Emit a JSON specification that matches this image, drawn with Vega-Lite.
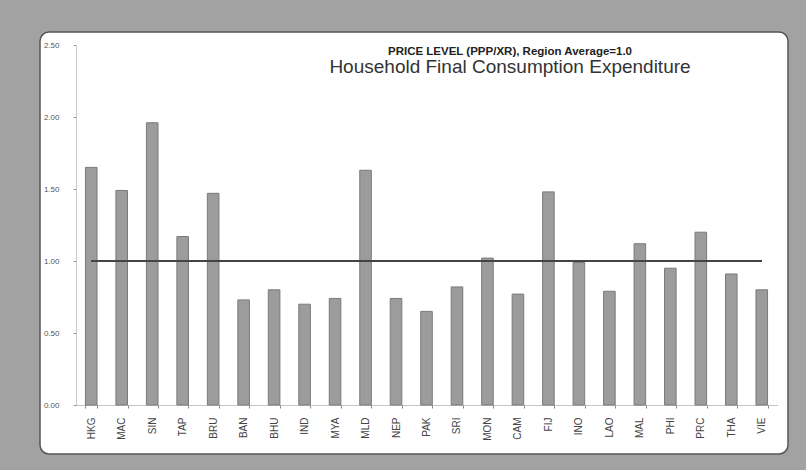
{
  "$schema": "https://vega.github.io/schema/vega-lite/v6.json",
  "width": 748,
  "height": 422,
  "autosize": {"type": "none"},
  "padding": {"left": 40, "top": 32, "right": 18, "bottom": 16},
  "background": "#a2a2a2",
  "config": {
    "font": "Liberation Sans",
    "view": {"fill": "white", "stroke": "#555", "strokeWidth": 1.5, "cornerRadius": 9}
  },
  "title": {
    "text": "PRICE LEVEL (PPP/XR), Region Average=1.0",
    "subtitle": "Household Final Consumption Expenditure",
    "fontSize": 11.5,
    "fontWeight": "bold",
    "color": "#222",
    "subtitleFontSize": 19,
    "subtitleColor": "#333",
    "subtitlePadding": 1,
    "anchor": "middle",
    "frame": "group",
    "dx": 96,
    "offset": -45
  },
  "data": {
    "values": [
      {"code": "HKG", "value": 1.65},
      {"code": "MAC", "value": 1.49},
      {"code": "SIN", "value": 1.96},
      {"code": "TAP", "value": 1.17},
      {"code": "BRU", "value": 1.47},
      {"code": "BAN", "value": 0.73},
      {"code": "BHU", "value": 0.80},
      {"code": "IND", "value": 0.70},
      {"code": "MYA", "value": 0.74},
      {"code": "MLD", "value": 1.63},
      {"code": "NEP", "value": 0.74},
      {"code": "PAK", "value": 0.65},
      {"code": "SRI", "value": 0.82},
      {"code": "MON", "value": 1.02},
      {"code": "CAM", "value": 0.77},
      {"code": "FIJ", "value": 1.48},
      {"code": "INO", "value": 0.99},
      {"code": "LAO", "value": 0.79},
      {"code": "MAL", "value": 1.12},
      {"code": "PHI", "value": 0.95},
      {"code": "PRC", "value": 1.20},
      {"code": "THA", "value": 0.91},
      {"code": "VIE", "value": 0.80}
    ]
  },
  "encoding": {
    "x": {
      "field": "code",
      "type": "nominal",
      "sort": null,
      "scale": {"range": [36, 737], "paddingInner": 0.62, "paddingOuter": 0.31},
      "axis": {
        "title": null,
        "offset": -49,
        "labelAngle": -90,
        "labelFontSize": 10,
        "labelColor": "#444",
        "labelPadding": 9,
        "tickBand": "extent",
        "tickSize": 3,
        "tickColor": "#888",
        "domainColor": "#888",
        "domainDash": [1, 1]
      }
    },
    "y": {
      "field": "value",
      "type": "quantitative",
      "scale": {"domain": [0, 2.5], "range": [373, 13], "nice": false},
      "axis": {
        "title": null,
        "offset": -36,
        "values": [0, 0.5, 1, 1.5, 2, 2.5],
        "format": ".2f",
        "labelFontSize": 8,
        "labelColor": "#555",
        "labelPadding": 14,
        "tickSize": 3,
        "tickColor": "#999",
        "domainColor": "#999",
        "domainDash": [1, 1],
        "grid": false
      }
    }
  },
  "layer": [
    {
      "mark": {"type": "bar", "fill": "#9c9c9c", "stroke": "#7a7a7a", "strokeWidth": 1}
    },
    {
      "mark": {"type": "rule", "color": "#444", "strokeWidth": 1.5},
      "encoding": {
        "x": {"datum": "HKG"},
        "x2": {"datum": "VIE"},
        "y": {"datum": 1}
      }
    }
  ]
}
